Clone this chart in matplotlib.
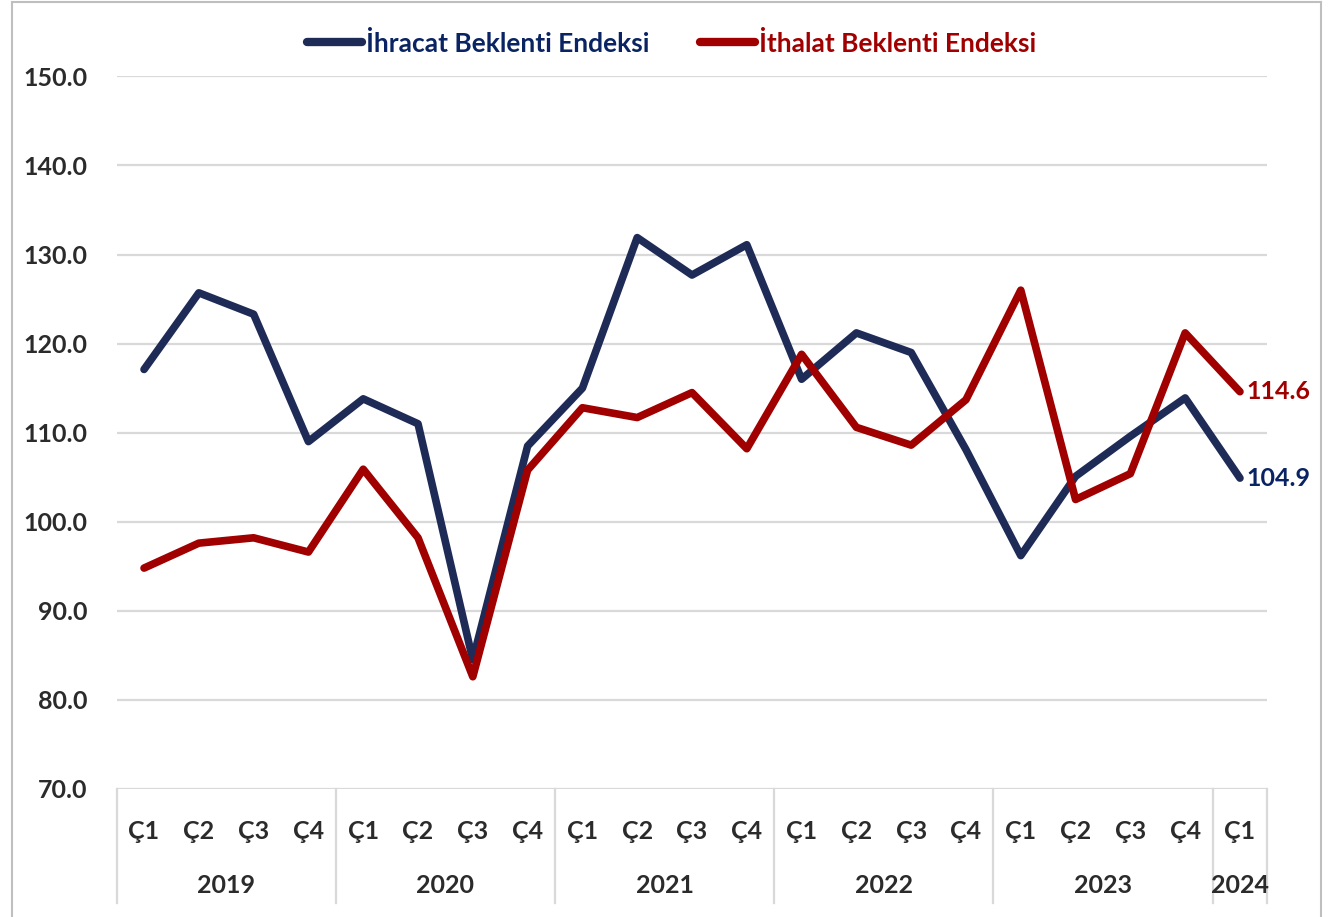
import matplotlib
matplotlib.use("Agg")
import matplotlib.pyplot as plt
import matplotlib.transforms as mtransforms
from matplotlib.lines import Line2D

plt.rcParams['font.family'] = ['Lato', 'DejaVu Sans']
plt.rcParams['font.weight'] = 'bold'

quarters = ["Ç1", "Ç2", "Ç3", "Ç4"] * 5 + ["Ç1"]
years = ["2019", "2020", "2021", "2022", "2023", "2024"]
year_sizes = [4, 4, 4, 4, 4, 1]

ihracat = [117.1, 125.7, 123.3, 109.0, 113.8, 111.0, 84.5, 108.5,
           115.0, 131.9, 127.7, 131.1, 116.0, 121.2, 119.0, 108.1,
           96.2, 105.1, 109.6, 113.9, 104.9]
ithalat = [94.8, 97.6, 98.2, 96.6, 105.9, 98.2, 82.6, 105.8,
           112.8, 111.7, 114.5, 108.2, 118.8, 110.6, 108.6, 113.7,
           126.0, 102.5, 105.4, 121.2, 114.6]

series_names = ["İhracat Beklenti Endeksi", "İthalat Beklenti Endeksi"]
line_colors = ["#1F2B57", "#A00000"]
text_colors = ["#0A2463", "#A00000"]
grid_color = "#D9D9D9"
tick_color = "#2B2B2B"
FS = 18

fig = plt.figure(figsize=(13.3, 9.17), dpi=100)
ax = fig.add_axes([0.0877, 0.1396, 0.8652, 0.7771])

x = list(range(len(quarters)))
ax.plot(x, ihracat, color=line_colors[0], lw=5.5, solid_joinstyle='round', solid_capstyle='round', zorder=3)
ax.plot(x, ithalat, color=line_colors[1], lw=5.5, solid_joinstyle='round', solid_capstyle='round', zorder=3)

ax.set_xlim(-0.5, len(quarters) - 0.5)
ax.set_ylim(70, 150)
ax.set_yticks(range(70, 151, 10))
ax.set_yticklabels([f"{v:.1f}" for v in range(70, 151, 10)], fontsize=FS, fontweight='bold', color=tick_color)
ax.tick_params(axis='y', length=0, pad=21)
ax.set_xticks([])
for s in ax.spines.values():
    s.set_visible(False)
ax.grid(axis='y', color=grid_color, lw=1.6, zorder=0)
ax.set_axisbelow(True)

trans = mtransforms.blended_transform_factory(ax.transData, ax.transAxes)
for i, q in enumerate(quarters):
    ax.text(i, -0.059, q, transform=trans, ha='center', va='center', fontsize=FS,
            fontweight='bold', color=tick_color)
pos = -0.5
bounds = [pos]
for y, n in zip(years, year_sizes):
    ax.text(pos + n / 2, -0.136, y, transform=trans, ha='center', va='center', fontsize=FS,
            fontweight='bold', color=tick_color)
    pos += n
    bounds.append(pos)
for b in bounds:
    ax.plot([b, b], [0, -0.16], transform=trans, color=grid_color, lw=1.6, clip_on=False)

# end labels
ax.annotate(f"{ithalat[-1]:.1f}", (x[-1], ithalat[-1]), xytext=(5, 0), textcoords='offset points',
            ha='left', va='center', fontsize=FS, fontweight='bold', color=text_colors[1], annotation_clip=False)
ax.annotate(f"{ihracat[-1]:.1f}", (x[-1], ihracat[-1]), xytext=(5, 0), textcoords='offset points',
            ha='left', va='center', fontsize=FS, fontweight='bold', color=text_colors[0], annotation_clip=False)

handles = [Line2D([], [], color=c, lw=6, solid_capstyle='round') for c in line_colors]
leg = fig.legend(handles, series_names, loc='center', bbox_to_anchor=(0.505, 0.953), ncol=2,
                 frameon=False, handlelength=2.1, handletextpad=0.15, columnspacing=1.9,
                 prop={'weight': 'bold', 'size': 19})
for t, c in zip(leg.get_texts(), text_colors):
    t.set_color(c)

# figure border (left, top, right)
fig.add_artist(Line2D([0.009, 0.009], [0, 0.998], color="#BFBFBF", lw=1.5, transform=fig.transFigure))
fig.add_artist(Line2D([0.009, 0.993], [0.998, 0.998], color="#BFBFBF", lw=1.5, transform=fig.transFigure))
fig.add_artist(Line2D([0.993, 0.993], [0, 0.998], color="#BFBFBF", lw=1.5, transform=fig.transFigure))

fig.savefig("out.png", dpi=100)
